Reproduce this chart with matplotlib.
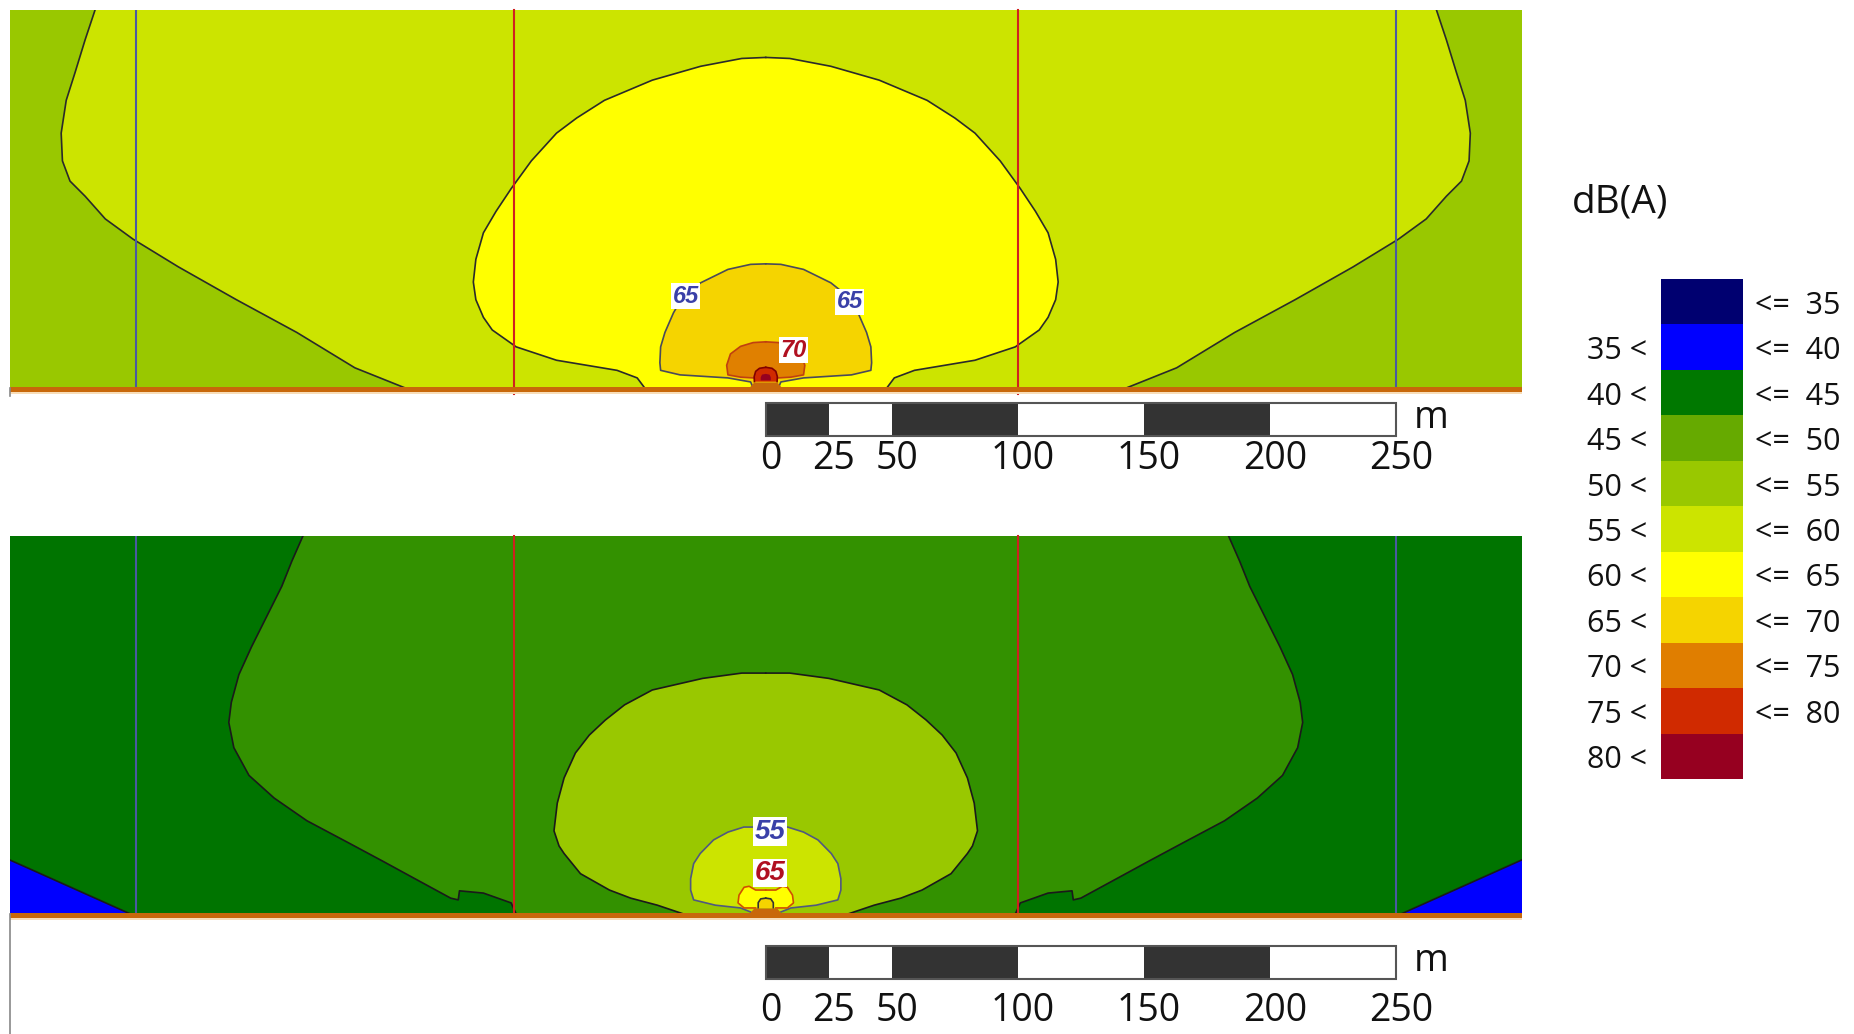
import numpy as np
import matplotlib.pyplot as plt
from matplotlib.patches import Rectangle

plt.rcParams['font.family'] = ['Open Sans', 'DejaVu Sans']

# legend classes, dB(A)
legend_left = ['', '35 <', '40 <', '45 <', '50 <', '55 <', '60 <', '65 <', '70 <', '75 <', '80 <']
legend_right = ['<=  35', '<=  40', '<=  45', '<=  50', '<=  55', '<=  60',
                '<=  65', '<=  70', '<=  75', '<=  80', '']
legend_colors = ['#000070', '#0000FF', '#007800', '#66AA00', '#99C800', '#CCE400',
                 '#FFFF00', '#F5D400', '#E07E00', '#D02A00', '#960020']

# scale bar ticks (m)
scale_ticks = [0, 25, 50, 100, 150, 200, 250]

# receiver lines (m from source)
blue_lines_x = [-250, 250]
red_lines_x = [-100, 100]

# top map: right half of each contour (x m, y m), mirrored about the source
top_55 = [(266, 150), (270, 138), (274, 125), (277.5, 114), (279.5, 101), (279, 90), (276, 82),
          (270, 76), (262, 67), (251, 59), (233, 48), (210, 35), (186, 22), (163, 8), (143, 0)]
top_60 = [(0, 131), (9.5, 130.6), (25.8, 127.5), (45, 122), (64, 114), (75, 107), (83, 101),
          (93, 90), (101, 79), (107, 70), (112, 61.5), (115, 51), (116, 42), (115, 35),
          (112, 28), (108.5, 23), (99, 16.3), (83, 11), (59, 7), (51, 4), (48, 0)]
top_65 = [(0, 49.2), (6, 49), (15, 47), (25.8, 41.7), (33, 36), (36.6, 29.8), (40, 22),
          (41.7, 16.3), (42, 10), (41.7, 7), (34, 5.2), (15, 4), (6, 2.4), (5, 0)]
top_70 = [(0, 18.3), (5, 18), (10, 16.5), (14, 13.5), (15.5, 9), (15, 5.2), (10, 4.3), (5, 4)]
top_75 = [(0, 8.2), (2.5, 7.8), (4, 6.6), (4.6, 4.5), (4.5, 2.5)]
top_80 = [(0, 5.6), (1.5, 5.3), (2, 4.2), (2, 3)]
top_labels = ['65', '65', '70']
top_label_xy = [(-31.8, 36.3), (33.4, 34.1), (11, 15)]
top_label_colors = ['#3A40A8', '#3A40A8', '#B01020']

# bottom map
bot_45 = [(183.6, 150), (188, 140), (192, 130), (198, 118), (204, 106), (209, 95), (212, 84),
          (213, 76), (211, 66), (205, 55), (195, 46), (182, 37), (166, 28.5), (152, 21),
          (141, 15), (125, 6.3), (122, 5.6), (121.5, 9.2), (112, 8.3), (101, 4.4), (99, 0)]
bot_50 = [(0, 95.6), (9.5, 95.6), (25, 93.5), (45, 88.9), (56, 83), (63.6, 77), (70, 71),
          (75.5, 63.9), (80, 54), (82.7, 44), (84, 33), (82, 27), (80, 24), (73.5, 16),
          (62, 9.5), (53.6, 6.3), (43, 3.5), (32.6, 0)]
bot_55 = [(0, 34.5), (8.7, 34.5), (15, 32.5), (20.7, 29.4), (26, 24), (28.6, 20), (29.8, 14),
          (29.8, 9.5), (28.6, 5.6), (20, 3.5), (10, 2.4), (6, 0.8)]
bot_60 = [(0, 9.5), (4, 9.5), (6.6, 11), (8.6, 10.6), (10.6, 7.5), (11, 4.4), (8.6, 2.4), (4, 2.4)]
bot_65 = [(0, 6.3), (2, 6), (3, 4.5), (3, 2.4)]
bot_blue = [(252, 0), (300, 21.5), (300, 0)]
bot_labels = ['55', '65']
bot_label_xy = [(1.6, 32.7), (1.6, 16.3)]
bot_label_colors = ['#3A40A8', '#B01020']

source_bump = [(0, 2.2), (4.5, 2.2), (6.5, 0)]

fig = plt.figure(figsize=(18.54, 10.34), dpi=100)


def band(ax, half, fill, edge, z, lw=1.2):
    h = np.array(half, dtype=float)
    left = h[::-1] * np.array([-1, 1])
    poly = np.vstack([left, h])
    ax.fill(poly[:, 0], poly[:, 1], color=fill, lw=0, zorder=z)
    if edge:
        ax.plot(left[:, 0], left[:, 1], color=edge, lw=lw, zorder=z + 0.5)
        ax.plot(h[:, 0], h[:, 1], color=edge, lw=lw, zorder=z + 0.5)


def setup(ax, bg):
    ax.set_xlim(-300, 300)
    ax.set_ylim(0, 150)
    ax.axis('off')
    ax.add_patch(Rectangle((-300, 0), 600, 150, color=bg, lw=0, zorder=0))


def finish(ax, bar_top, bar_h, lab_y, edge_len, red_ext):
    for x in blue_lines_x:
        ax.plot([x, x], [0, 150], color='#4A5AA0', lw=1.5, zorder=20)
    for x in red_lines_x:
        ax.plot([x, x], [red_ext, 150], color='#D02020', lw=1.5, zorder=20, clip_on=False)
    band(ax, source_bump, '#C8680A', None, 21)
    # road
    ax.add_patch(Rectangle((-300, -1.5), 600, 2.0, color='#C8680A', lw=0, zorder=22, clip_on=False))
    ax.add_patch(Rectangle((-300, -2.2), 600, 0.7, color='#F8DDB8', lw=0, zorder=22, clip_on=False))
    ax.plot([-300, -300], [0, edge_len], color='#888888', lw=1.2, clip_on=False, zorder=22)
    # scale bar
    for i in range(len(scale_ticks) - 1):
        x0, x1 = scale_ticks[i], scale_ticks[i + 1]
        c = '#333333' if i % 2 == 0 else 'white'
        ax.add_patch(Rectangle((x0, bar_top - bar_h), x1 - x0, bar_h, facecolor=c,
                               edgecolor='none', clip_on=False, zorder=22))
    ax.add_patch(Rectangle((0, bar_top - bar_h), 250, bar_h, facecolor='none',
                           edgecolor='#555555', lw=1.5, clip_on=False, zorder=23))
    for t in scale_ticks:
        ax.text(t + 2, lab_y, str(t), fontsize=27, ha='center', va='center', color='#111111')
    ax.text(257, bar_top - bar_h / 2 + 0.5, 'm', fontsize=27, ha='left', va='center', color='#111111')


def labels(ax, texts, xy, colors, size):
    for t, (x, y), c in zip(texts, xy, colors):
        ax.text(x, y, t, fontsize=size, color=c, style='italic', fontweight='bold',
                family=['Liberation Sans', 'DejaVu Sans'], ha='center', va='center', zorder=30,
                bbox=dict(facecolor='white', edgecolor='none', pad=1.0))


# ---- top map
ax1 = fig.add_axes([9.5 / 1854, 1 - 388 / 1034, 1512.5 / 1854, 378.5 / 1034])
setup(ax1, '#99C800')
band(ax1, top_55, '#CCE400', '#2A2A2A', 1)
band(ax1, top_60, '#FFFF00', '#2A2A2A', 2)
band(ax1, top_65, '#F5D400', '#4A4A5A', 3)
band(ax1, top_70, '#E08000', '#C04010', 4)
band(ax1, top_75, '#D02A00', '#800000', 5)
band(ax1, top_80, '#960020', None, 6)
finish(ax1, -6, 13, -28.2, -3, -2.4)
labels(ax1, top_labels, top_label_xy, top_label_colors, 17)

# ---- bottom map
ax2 = fig.add_axes([9.5 / 1854, 1 - 914 / 1034, 1512.5 / 1854, 378 / 1034])
setup(ax2, '#007400')
bb = np.array(bot_blue)
for s in (1, -1):
    ax2.fill(s * bb[:, 0], bb[:, 1], color='#0000FF', lw=0, zorder=1)
    ax2.plot(s * bb[:2, 0], bb[:2, 1], color='#1A1A1A', lw=1.2, zorder=1.5)
band(ax2, bot_45, '#339100', '#1A1A1A', 2)
band(ax2, bot_50, '#99C800', '#1A1A1A', 3)
band(ax2, bot_55, '#CCE400', '#505880', 4)
band(ax2, bot_60, '#FFFF00', '#D05000', 5)
band(ax2, bot_65, '#F5D400', '#333333', 6)
finish(ax2, -12.7, 13.1, -38.5, -48, 0)
labels(ax2, bot_labels, bot_label_xy, bot_label_colors, 20)

# ---- legend (pixel coordinates)
axl = fig.add_axes([0, 0, 1, 1])
axl.set_xlim(0, 1854)
axl.set_ylim(1034, 0)
axl.axis('off')
cell_h = 500 / len(legend_colors)
for i, (c, l, r) in enumerate(zip(legend_colors, legend_left, legend_right)):
    y0 = 279 + i * cell_h
    axl.add_patch(Rectangle((1661, y0), 82, cell_h, color=c, lw=0))
    yc = y0 + cell_h / 2 + 4
    if l:
        axl.text(1647, yc, l, fontsize=22, ha='right', va='center', color='#111111')
    if r:
        axl.text(1755, yc, r, fontsize=22, ha='left', va='center', color='#111111')
axl.text(1572, 203, 'dB(A)', fontsize=28, ha='left', va='center', color='#111111')

fig.savefig('out.png', dpi=100)
